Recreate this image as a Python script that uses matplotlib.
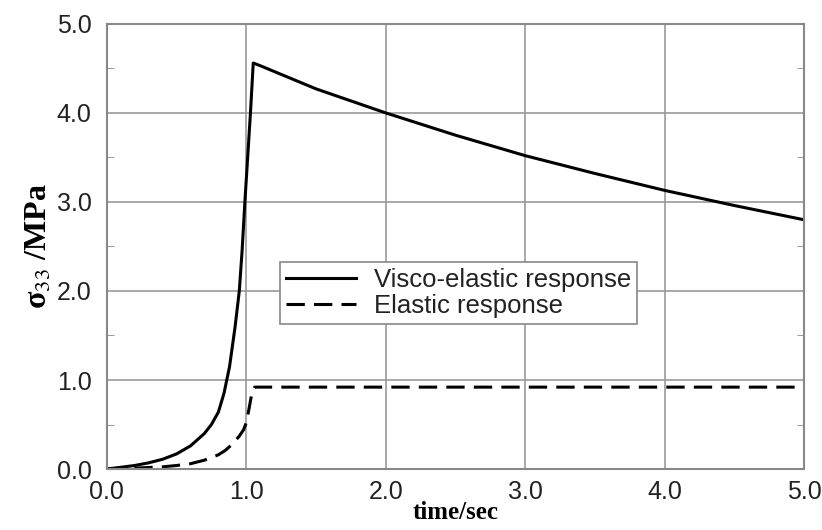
import numpy as np
import matplotlib.pyplot as plt
from matplotlib.ticker import MultipleLocator

# visco-elastic response
t_visco = [0.0, 0.1, 0.2, 0.3, 0.4, 0.5, 0.6, 0.7, 0.75, 0.8, 0.84, 0.88, 0.92,
           0.95, 0.97, 0.99, 1.01, 1.03, 1.05, 1.1, 1.5, 2.0, 2.5, 3.0, 3.5,
           4.0, 4.5, 5.0]
s_visco = [0.0, 0.02, 0.04, 0.07, 0.11, 0.17, 0.26, 0.40, 0.50, 0.64, 0.85, 1.15, 1.6,
           2.0, 2.45, 3.0, 3.5, 4.0, 4.56, 4.53, 4.27, 4.0, 3.75, 3.52, 3.32,
           3.13, 2.96, 2.8]

# elastic response
t_elastic = [0.0, 0.2, 0.4, 0.5, 0.6, 0.7, 0.8, 0.85, 0.9, 0.95, 0.98, 1.0, 1.02,
             1.04, 1.06, 5.0]
s_elastic = [0.0, 0.01, 0.025, 0.04, 0.06, 0.1, 0.16, 0.21, 0.28, 0.37, 0.44, 0.52,
             0.68, 0.85, 0.92, 0.92]

xticks = [0.0, 1.0, 2.0, 3.0, 4.0, 5.0]
yticks = [0.0, 1.0, 2.0, 3.0, 4.0, 5.0]

plt.rcParams['font.family'] = ['Liberation Sans', 'DejaVu Sans']
plt.rcParams['mathtext.fontset'] = 'stix'

fig = plt.figure(figsize=(8.22, 5.30), dpi=100)
ax = fig.add_axes([0.130, 0.115, 0.848, 0.840])

ax.plot(t_visco, s_visco, color='black', lw=2.2, label='Visco-elastic response')
ax.plot(t_elastic, s_elastic, color='black', lw=2.2, dashes=(6, 3),
        label='Elastic response')

ax.set_xlim(0, 5)
ax.set_ylim(0, 5)
ax.set_xticks(xticks)
ax.set_yticks(yticks)
ax.set_xticklabels(['%.1f' % v for v in xticks])
ax.set_yticklabels(['%.1f' % v for v in yticks])
ax.yaxis.set_minor_locator(MultipleLocator(0.5))
ax.tick_params(which='major', length=0, labelsize=18, pad=11, labelcolor='#222222')
ax.tick_params(axis='x', which='major', pad=8)
ax.tick_params(which='minor', axis='y', direction='in', length=5, color='#888888',
               left=True, right=True)
ax.grid(True, which='major', color='#999999', lw=1.2)
for sp in ax.spines.values():
    sp.set_color('#888888')
    sp.set_linewidth(1.5)

ax.set_xlabel('time/sec', family=['Liberation Serif'], fontweight='bold',
              fontsize=18, labelpad=-2)
ax.set_ylabel('σ$_{33}$ /MPa', family=['Liberation Serif'],
              fontweight='bold', fontsize=23, labelpad=2)

leg = ax.legend(loc='upper left', bbox_to_anchor=(0.248, 0.465), fontsize=18.5,
                frameon=True, fancybox=False, framealpha=1, edgecolor='#888888',
                handlelength=2.7, handletextpad=0.7, borderpad=0.25,
                labelspacing=0.05, borderaxespad=0)
leg.get_frame().set_linewidth(1.2)
for txt in leg.get_texts():
    txt.set_color('#222222')

fig.savefig('out.png', dpi=100)
